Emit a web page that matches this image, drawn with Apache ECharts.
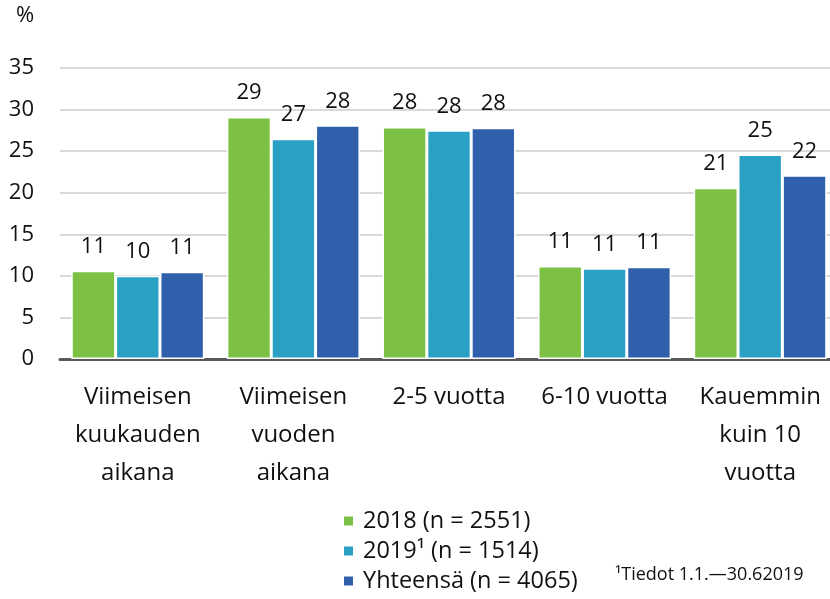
<!DOCTYPE html>
<html>
<head>
<meta charset="utf-8">
<script src="https://cdn.jsdelivr.net/npm/echarts@6/dist/echarts.min.js"></script>
<style>
  html, body { margin: 0; padding: 0; background: #fff; }
  #main { width: 830px; height: 599px; }
</style>
</head>
<body>
<div id="main"></div>
<script>
// categories and series
var categories = [
  "Viimeisen\nkuukauden\naikana",
  "Viimeisen\nvuoden\naikana",
  "2-5 vuotta",
  "6-10 vuotta",
  "Kauemmin\nkuin 10\nvuotta"
];
var seriesNames = ["2018 (n = 2551)", "2019\u00b9 (n = 1514)", "Yhteens\u00e4 (n = 4065)"];
var values2018 = [10.6, 29.1, 27.9, 11.2, 20.6];
var values2019 = [10.0, 26.5, 27.5, 10.9, 24.6];
var valuesTotal = [10.5, 28.1, 27.8, 11.1, 22.1];
var colors = ["#7dc144", "#2aa1c4", "#3060ac"];
var unitText = "%";
var footnote = "\u00b9Tiedot 1.1.\u201430.62019";

var font = "'Open Sans', 'Noto Sans', sans-serif";
var chart = echarts.init(document.getElementById("main"));

function makeSeries(name, data, color) {
  return {
    name: name,
    type: "bar",
    data: data,
    barGap: "0%",
    barCategoryGap: "14.5%",
    itemStyle: { color: color, borderColor: "#fff", borderWidth: 1.5 },
    label: {
      show: true,
      position: "top",
      distance: 13,
      color: "#111",
      fontFamily: font,
      fontSize: 22,
      formatter: function (p) { return Math.round(p.value); }
    }
  };
}

var option = {
  animation: false,
  backgroundColor: "#fff",
  grid: { left: 60, top: 68, width: 778, height: 291, outerBoundsMode: "none" },
  legend: {
    orient: "vertical",
    left: 342,
    top: 509,
    height: 140,
    padding: 0,
    itemWidth: 11,
    itemHeight: 11,
    itemGap: 6,
    icon: "rect",
    data: seriesNames,
    textStyle: { fontFamily: font, fontSize: 23.5, color: "#111", lineHeight: 24, padding: [0, 0, 0, 4] }
  },
  xAxis: {
    type: "category",
    data: categories,
    axisLine: { lineStyle: { color: "#595959", width: 3 } },
    axisTick: { show: false },
    axisLabel: {
      interval: 0,
      margin: 19,
      color: "#111",
      fontFamily: font,
      fontSize: 24,
      lineHeight: 38
    }
  },
  yAxis: {
    type: "value",
    min: 0,
    max: 35,
    interval: 5,
    axisLine: { show: false },
    axisTick: { show: false },
    splitLine: { lineStyle: { color: "#d9d9d9", width: 2 } },
    axisLabel: { margin: 26, color: "#111", fontFamily: font, fontSize: 22 }
  },
  graphic: [{
    type: "text",
    left: 16,
    top: 5,
    style: { text: unitText, fontFamily: font, fontSize: 22, fill: "#111" }
  }, {
    type: "text",
    left: 615,
    top: 566,
    style: { text: footnote, fontFamily: font, fontSize: 18, fill: "#111" }
  }],
  series: [
    makeSeries(seriesNames[0], values2018, colors[0]),
    makeSeries(seriesNames[1], values2019, colors[1]),
    makeSeries(seriesNames[2], valuesTotal, colors[2])
  ]
};
chart.setOption(option);
</script>
</body>
</html>
